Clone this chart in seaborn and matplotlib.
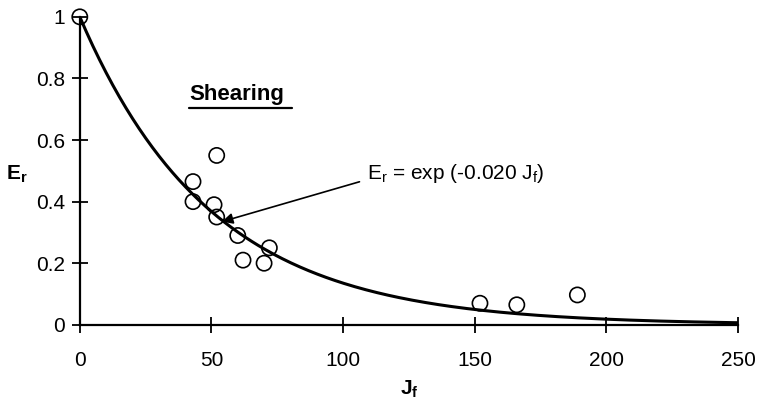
import numpy as np
import pandas as pd
import matplotlib
matplotlib.use('Agg')
import matplotlib.pyplot as plt
import seaborn as sns

jf = [0, 43, 43, 51, 52, 52, 60, 62, 70, 72, 152, 166, 189]
er = [1.0, 0.40, 0.465, 0.39, 0.35, 0.55, 0.29, 0.21, 0.20, 0.25, 0.07, 0.065, 0.097]

# Fitted curve Er = exp(-k Jf)
fit_k = 0.020
fit_jf = np.linspace(0, 250, 300)

x_ticks = [0, 50, 100, 150, 200, 250]
y_ticks = [0, 0.2, 0.4, 0.6, 0.8, 1]
y_labels = ['0', '0.2', '0.4', '0.6', '0.8', '1']

sns.set_style("white")
plt.rcParams['font.family'] = ['Liberation Sans', 'DejaVu Sans']
plt.rcParams['mathtext.fontset'] = 'custom'
plt.rcParams['mathtext.rm'] = 'Liberation Sans'
plt.rcParams['mathtext.bf'] = 'Liberation Sans:bold'
plt.rcParams['text.color'] = 'black'
plt.rcParams['axes.labelcolor'] = 'black'

data = pd.DataFrame({'Jf': jf, 'Er': er})
fit = pd.DataFrame({'Jf': fit_jf, 'Er': np.exp(-fit_k * fit_jf)})

fig = plt.figure(figsize=(7.6, 4.01), dpi=100)
ax = fig.add_axes([0.105, 0.19, 0.866, 0.768])

sns.lineplot(data=fit, x='Jf', y='Er', color='black', linewidth=2.2, ax=ax)
sns.scatterplot(data=data, x='Jf', y='Er', s=120, facecolor='none',
                edgecolor='black', linewidth=1.2, ax=ax, clip_on=False, zorder=3)

ax.set_xlim(0, 250)
ax.set_ylim(0, 1)
ax.set_xticks(x_ticks)
ax.set_xticklabels([str(t) for t in x_ticks])
ax.set_yticks(y_ticks)
ax.set_yticklabels(y_labels)
ax.tick_params(bottom=True, left=True, direction='inout', length=11, width=1.3,
               labelsize=15, colors='black')
ax.tick_params(axis='x', pad=13)
ax.tick_params(axis='y', pad=5)

for s in ['top', 'right']:
    ax.spines[s].set_visible(False)
for s in ['left', 'bottom']:
    ax.spines[s].set_color('black')
    ax.spines[s].set_linewidth(1.6)

ax.set_xlabel('$\\mathbf{J_f}$', fontsize=15, va='center')
ax.xaxis.set_label_coords(0.5, -0.21)
ax.set_ylabel('$\\mathbf{E_r}$', fontsize=15, rotation=0, va='center', ha='center')
ax.yaxis.set_label_coords(-0.096, 0.487)

ax.text(41.5, 0.715, 'Shearing', fontsize=16, fontweight='bold', ha='left', va='bottom', color='black')
ax.plot([41.5, 80.5], [0.703, 0.703], color='black', linewidth=1.6)

ax.annotate('$\\mathrm{E_r}$ = exp (-0.020 $\\mathrm{J_f}$)', xy=(54, 0.335), xytext=(109, 0.49),
            fontsize=15, ha='left', va='center', color='black',
            arrowprops=dict(arrowstyle='-|>', color='black', linewidth=1.2,
                            mutation_scale=16, relpos=(0, 0.25), shrinkA=3, shrinkB=0))

fig.savefig('out.png', dpi=100)
